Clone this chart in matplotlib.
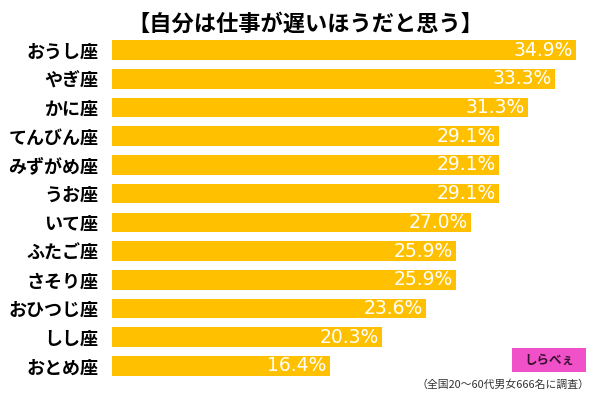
import matplotlib
matplotlib.use('Agg')
import matplotlib.pyplot as plt
from matplotlib.patches import Rectangle

plt.rcParams['font.family'] = ['Noto Sans CJK JP', 'DejaVu Sans']

# data, top to bottom
signs = ['おうし座', 'やぎ座', 'かに座', 'てんびん座', 'みずがめ座', 'うお座',
         'いて座', 'ふたご座', 'さそり座', 'おひつじ座', 'しし座', 'おとめ座']
values = [34.9, 33.3, 31.3, 29.1, 29.1, 29.1, 27.0, 25.9, 25.9, 23.6, 20.3, 16.4]

title = '【自分は仕事が遅いほうだと思う】'
note = '（全国20～60代男女666名に調査）'
bar_color = '#FFC000'

fig = plt.figure(figsize=(6.0, 3.97), dpi=100)
ax = fig.add_axes([0.187, 0.042, 0.793, 0.868])

y = list(range(len(signs)))
ax.barh(y, values, height=0.68, color=bar_color)
ax.set_xlim(0, 35.8)
ax.set_ylim(len(signs) - 0.5, -0.5)

for yi, v in zip(y, values):
    ax.text(v - 0.25, yi, f'{v:.1f}%', ha='right', va='center',
            color='white', fontsize=13.5, family=['DejaVu Sans'])

ax.set_yticks(y)
ax.set_yticklabels(signs, fontsize=13, fontweight='bold')
ax.tick_params(axis='y', length=0, pad=10)
ax.set_xticks([])
for s in ax.spines.values():
    s.set_visible(False)

fig.text(0.509, 0.94, title, ha='center', va='center',
         fontsize=16, fontweight='bold')
fig.text(0.982, 0.03, note, ha='right', va='center', fontsize=7.8, color='#333333')

# logo box
fig.patches.append(Rectangle((0.853, 0.063), 0.123, 0.06, transform=fig.transFigure,
                             facecolor='#F050C8', edgecolor='none'))
fig.text(0.915, 0.093, 'しらべぇ', ha='center', va='center', fontsize=9,
         fontweight='bold', color='#3a1030')

fig.savefig('out.png', dpi=100)
